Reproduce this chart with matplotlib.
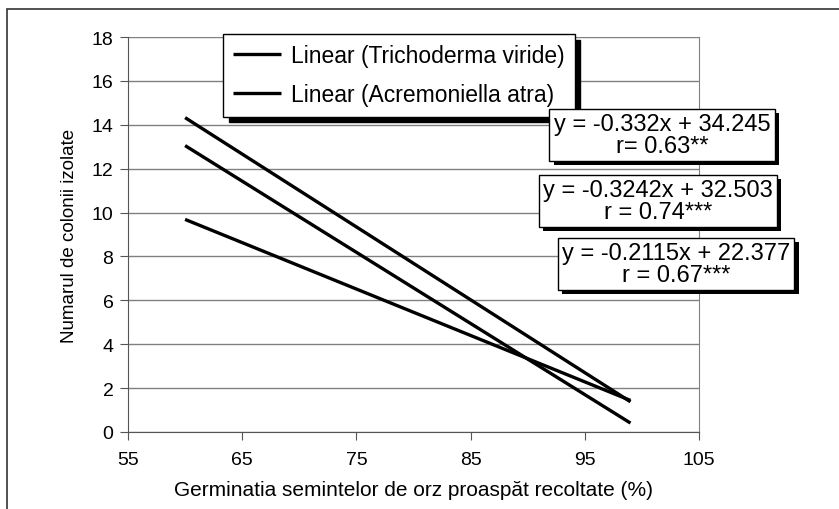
import matplotlib.pyplot as plt
import matplotlib.patheffects as pe
import numpy as np

# trendline data
series = ['Trichoderma viride', 'Acremoniella atra', 'third']
slopes = [-0.332, -0.3242, -0.2115]
intercepts = [34.245, 32.503, 22.377]
x_range = [60, 99]
eq_labels = ['y = -0.332x + 34.245\nr= 0.63**',
             'y = -0.3242x + 32.503\nr = 0.74***',
             'y = -0.2115x + 22.377\nr = 0.67***']
legend_labels = ['Linear (Trichoderma viride)', 'Linear (Acremoniella atra)']

plt.rcParams['font.family'] = ['Liberation Sans', 'DejaVu Sans']

fig = plt.figure(figsize=(8.39, 5.10), dpi=100)
# outer frame
fig.patches.append(plt.Rectangle((7/839, -0.1), 1.0, 1 - 10/510 + 0.1,
                                 transform=fig.transFigure, fill=False,
                                 edgecolor='#333333', linewidth=1.2))
ax = fig.add_axes([128/839, 1 - 433/510, (699 - 128)/839, (433 - 38)/510])

xs = np.array(x_range)
handles = []
for s, m, b in zip(series, slopes, intercepts):
    h, = ax.plot(xs, m * xs + b, color='black', linewidth=2.4, solid_capstyle='butt')
    handles.append(h)

ax.set_xlim(55, 105)
ax.set_ylim(0, 18)
ax.set_xticks(range(55, 106, 10))
ax.set_yticks(range(0, 19, 2))
ax.yaxis.grid(True, color='#808080', linewidth=1)
ax.set_axisbelow(True)
ax.spines['right'].set_color('#808080')
ax.spines['top'].set_visible(False)
ax.spines['left'].set_color('#555555')
ax.spines['bottom'].set_color('#555555')
ax.tick_params(direction='out', length=5.5, pad=5, colors='#555555',
               labelcolor='black', labelsize=14)
ax.tick_params(axis='x', pad=8)

ax.set_xlabel('Germinatia semintelor de orz proaspăt recoltate (%)',
              fontsize=15, labelpad=9)
ax.set_ylabel('Numarul de colonii izolate', fontsize=13.5, labelpad=10)

leg = ax.legend(handles[:2], legend_labels, loc='upper left',
                bbox_to_anchor=((223 - 128)/571, 1 + 3/395), fontsize=16.5,
                frameon=True, fancybox=False, edgecolor='black',
                shadow={'color': 'black', 'alpha': 1, 'ox': 4, 'oy': -4},
                handlelength=2.1, handletextpad=0.4, labelspacing=0.7,
                borderpad=0.45, borderaxespad=0)
leg.get_frame().set_linewidth(1)

pos = [(662/839, 1 - 136/510), (658/839, 1 - 202/510), (676/839, 1 - 265/510)]
for (px, py), t in zip(pos, eq_labels):
    txt = fig.text(px, py, t, ha='center', va='center', fontsize=17,
                   multialignment='center', linespacing=1.0,
                   bbox=dict(boxstyle='square,pad=0.18', facecolor='white',
                             edgecolor='black', linewidth=1))
    txt.get_bbox_patch().set_path_effects([
        pe.SimplePatchShadow(offset=(3, -3), shadow_rgbFace='black', alpha=1),
        pe.Normal()])

fig.savefig('out.png', dpi=100)
